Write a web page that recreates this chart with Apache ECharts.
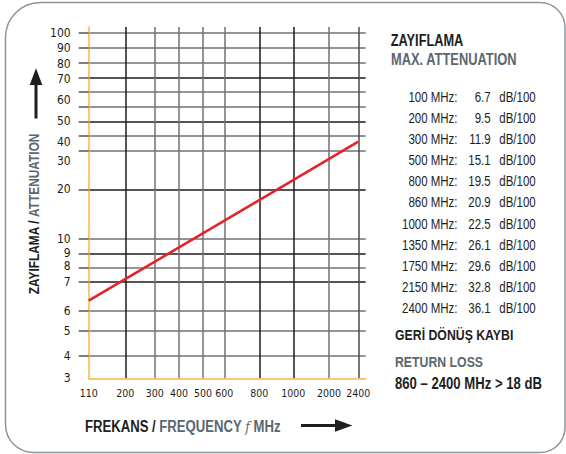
<!DOCTYPE html>
<html>
<head>
<meta charset="utf-8">
<title>Zayıflama / Attenuation</title>
<script src="https://cdn.jsdelivr.net/npm/echarts@6/dist/echarts.min.js"></script>
<style>
  html, body { margin: 0; padding: 0; background: #fff; }
  #chart { width: 566px; height: 454px; }
</style>
</head>
<body>
<div id="chart"></div>
<script>
// table on the right
var tableFreq = [100, 200, 300, 500, 800, 860, 1000, 1350, 1750, 2150, 2400];
var tableAtten = [6.7, 9.5, 11.9, 15.1, 19.5, 20.9, 22.5, 26.1, 29.6, 32.8, 36.1];
var tableUnit = 'dB/100';

// return loss
var rlFrom = 860;
var rlTo = 2400;
var rlValue = 18;

// the red line as drawn in the print (MHz, dB/100)
var lineFreq = [110, 2400];
var lineAtten = [6.35, 40];

// tick labels
var xTickVals = [110, 200, 300, 400, 500, 600, 800, 1000, 2000, 2400];
var yTickVals = [3, 4, 5, 6, 7, 8, 9, 10, 20, 30, 40, 50, 60, 70, 80, 90, 100];

// the printed grid is not a true log scale, so the axes are calibrated
// against where each tick sits (axis units from the bottom-left corner)
var xTickUnits = [0, 36.6, 66, 90.3, 114.3, 135.6, 170.6, 204.6, 240.3, 269.6];
var yTickUnits = [0, 22.3, 47.6, 67.6, 96.3, 112.3, 125, 139.6, 189, 217.6, 236.6, 257, 278.3, 299.3, 314.3, 330.6, 345.6];
var yGridUnits = [22.3, 47.6, 67.6, 96.3, 110.3, 125, 139.6, 189, 227.6, 242.3, 257, 271.6, 286.3, 301, 315.6, 330.6, 345.6];

function interp(v, vals, units) {
    for (var i = 0; i < vals.length - 1; i++) {
        if (v <= vals[i + 1] || i === vals.length - 2) {
            var t = (v - vals[i]) / (vals[i + 1] - vals[i]);
            return units[i] + t * (units[i + 1] - units[i]);
        }
    }
}
function xu(v) { return interp(v, xTickVals, xTickUnits); }
function yu(v) { return interp(v, yTickVals, yTickUnits); }

function labelFor(u, vals, units) {
    for (var i = 0; i < units.length; i++) {
        if (Math.abs(units[i] - u) < 0.01) return String(vals[i]);
    }
    return '';
}

var COND = "'DejaVu Sans Condensed', 'Liberation Sans', sans-serif";
var SANS = "'Liberation Sans', Arial, sans-serif";
var NARROW_X = 0.82; // Liberation Sans squeezed to narrow width
var DARK = '#1e1e1e';
var SLATE = '#5b6770';
var ORANGE = '#f8b54a';
var G1 = '#1c1c1c', G2 = '#727272';

var myChart = echarts.init(document.getElementById('chart'), null, { renderer: 'svg' });

var xGrid = xTickUnits.slice(1);

var colFreq = tableFreq.map(function (f) { return f + ' MHz:'; }).join('\n');
var colVal = tableAtten.map(function (a) { return a.toFixed(1); }).join('\n');
var colUnit = tableFreq.map(function () { return tableUnit; }).join('\n');
var rowH = 21.16;
var tableTop = 96.7 - rowH / 2;

function label(x, y, text, font, fill, align) {
    return {
        type: 'text', x: x, y: y, scaleX: NARROW_X,
        style: { text: text, align: align || 'left', verticalAlign: 'middle', font: font, fill: fill }
    };
}
function column(x, text, align) {
    return {
        type: 'text', x: x, y: tableTop, scaleX: NARROW_X,
        style: { text: text, align: align, verticalAlign: 'top', lineHeight: rowH, font: '14px ' + SANS, fill: DARK }
    };
}

var option = {
    animation: false,
    backgroundColor: '#fff',
    grid: {
        left: 88.7,
        top: 27,
        width: 277,
        height: 351.3,
        outerBoundsMode: 'none'
    },
    xAxis: {
        type: 'value',
        min: 0,
        max: 277,
        axisLine: { show: true, onZero: false, lineStyle: { color: ORANGE, width: 1.5 } },
        axisTick: { show: false, customValues: xGrid },
        axisLabel: {
            customValues: xTickUnits,
            formatter: function (v) { return labelFor(v, xTickVals, xTickUnits); },
            margin: 9,
            color: DARK,
            fontFamily: COND,
            fontSize: 10.5
        },
        splitLine: {
            show: true,
            lineStyle: {
                width: 1.5,
                color: [G1, G2, G2, G2, G2, G1, G1, G2, '#4a4a4a']
            }
        }
    },
    yAxis: {
        type: 'value',
        min: 0,
        max: 351.3,
        axisLine: { show: true, lineStyle: { color: ORANGE, width: 1.5 } },
        axisTick: {
            show: true,
            customValues: yGridUnits,
            length: 10,
            lineStyle: { color: '#555', width: 1.5 }
        },
        axisLabel: {
            customValues: yTickUnits,
            formatter: function (v) { return labelFor(v, yTickVals, yTickUnits); },
            margin: 18,
            color: DARK,
            fontFamily: COND,
            fontSize: 12
        },
        splitLine: {
            show: true,
            lineStyle: {
                width: 1.5,
                color: [G2, G2, G2, G1, G2, G1, G2, G1, G2, G2, G1, G2, G2, G1, G2, G2, G2]
            }
        }
    },
    series: [
        {
            type: 'line',
            data: lineFreq.map(function (f, i) { return [xu(f), yu(lineAtten[i])]; }),
            symbol: 'none',
            lineStyle: { color: '#e5232a', width: 2.6 },
            z: 5
        }
    ],
    graphic: [
        // card frame
        {
            type: 'rect',
            shape: { x: 5.5, y: 2.5, width: 559.5, height: 450, r: [35, 25, 25, 28] },
            style: { fill: 'none', stroke: '#8b959c', lineWidth: 1.5 },
            silent: true
        },
        // y axis title and arrow
        {
            type: 'text',
            x: 34.5,
            y: 214,
            rotation: Math.PI / 2,
            scaleX: NARROW_X,
            style: {
                text: '{a|ZAYIFLAMA / }{b|ATTENUATION}',
                align: 'center',
                verticalAlign: 'middle',
                rich: {
                    a: { fontFamily: SANS, fontWeight: 'bold', fontSize: 14.5, fill: DARK },
                    b: { fontFamily: SANS, fontWeight: 'bold', fontSize: 14.5, fill: SLATE }
                }
            }
        },
        { type: 'line', shape: { x1: 36, y1: 118.5, x2: 36, y2: 82 }, style: { stroke: DARK, lineWidth: 3 } },
        { type: 'polygon', shape: { points: [[29.7, 85], [42.3, 85], [36, 68.3]] }, style: { fill: DARK } },
        // x axis title and arrow
        {
            type: 'text',
            x: 85,
            y: 426.7,
            scaleX: NARROW_X,
            style: {
                text: '{a|FREKANS / }{b|FREQUENCY }{f|f}{b| MHz}',
                align: 'left',
                verticalAlign: 'middle',
                rich: {
                    a: { fontFamily: SANS, fontWeight: 'bold', fontSize: 16, fill: DARK },
                    b: { fontFamily: SANS, fontWeight: 'bold', fontSize: 16, fill: SLATE },
                    f: { fontFamily: "'DejaVu Serif', serif", fontStyle: 'italic', fontSize: 15, fill: SLATE }
                }
            }
        },
        { type: 'line', shape: { x1: 301, y1: 425.5, x2: 337, y2: 425.5 }, style: { stroke: DARK, lineWidth: 3 } },
        { type: 'polygon', shape: { points: [[335, 419.3], [335, 431.7], [352.3, 425.5]] }, style: { fill: DARK } },
        // right block
        label(390.7, 41, 'ZAYIFLAMA', 'bold 15.6px ' + SANS, DARK),
        label(391, 59.3, 'MAX. ATTENUATION', 'bold 15.7px ' + SANS, SLATE),
        column(457.5, colFreq, 'right'),
        column(490.7, colVal, 'right'),
        column(499.3, colUnit, 'left'),
        label(395, 335, 'GERİ DÖNÜŞ KAYBI', 'bold 15px ' + SANS, DARK),
        label(395, 361.7, 'RETURN LOSS', 'bold 15px ' + SANS, SLATE),
        label(395, 383.3, rlFrom + ' – ' + rlTo + ' MHz > ' + rlValue + ' dB', 'bold 16px ' + SANS, DARK)
    ]
};

myChart.setOption(option);
</script>
</body>
</html>
